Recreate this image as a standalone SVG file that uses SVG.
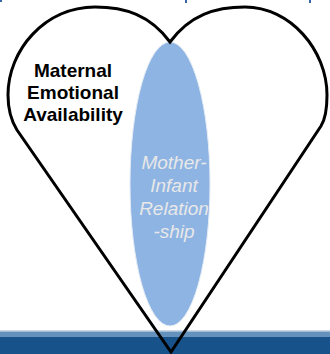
<svg xmlns="http://www.w3.org/2000/svg" width="330" height="354" viewBox="0 0 330 354">
<style>
.lbl{font-family:"Liberation Sans",Arial,sans-serif;font-size:19px;text-anchor:middle}
.bold{font-weight:bold;fill:#000}
.it{font-style:italic;fill:#e8e8e8}
</style>
<rect width="330" height="354" fill="#fff"/>
<g id="band">
<rect x="0" y="330" width="330" height="1.5" fill="#c9d7e6"/>
<rect x="0" y="331.5" width="330" height="5.5" fill="#6592bd"/>
<rect x="0" y="337" width="330" height="17" fill="#17528a"/>
</g>
<g id="title-fragments" fill="#3a66a6">
<rect x="0" y="0" width="2" height="2"/>
<rect x="185" y="0" width="2" height="3"/>
<rect x="309" y="0" width="2" height="3"/>
</g>
<g id="relationship">
<ellipse cx="170" cy="184" rx="40" ry="142" fill="#8eb4e3" stroke="#e4ecf5" stroke-width="1"/>
<text class="lbl it" x="174" y="169">Mother-</text>
<text class="lbl it" x="174" y="192">Infant</text>
<text class="lbl it" x="174" y="215">Relation</text>
<text class="lbl it" x="174" y="238">-ship</text>
</g>
<g id="heart">
<path d="M170 42 C150 15 125 7 95 7 C45 7 8 50 8 95 C8 110 12 122 17 130 L171 352 L321 126 C326 118 327 108 327 95 C327 50 290 7 245 7 C215 7 190 15 170 42 Z" fill="none" stroke="#000" stroke-width="3" stroke-linejoin="miter"/>
</g>
<g id="availability">
<text class="lbl bold" x="73" y="77">Maternal</text>
<text class="lbl bold" x="73" y="99">Emotional</text>
<text class="lbl bold" x="73" y="121">Availability</text>
</g>
<g id="connectors"/>
</svg>
